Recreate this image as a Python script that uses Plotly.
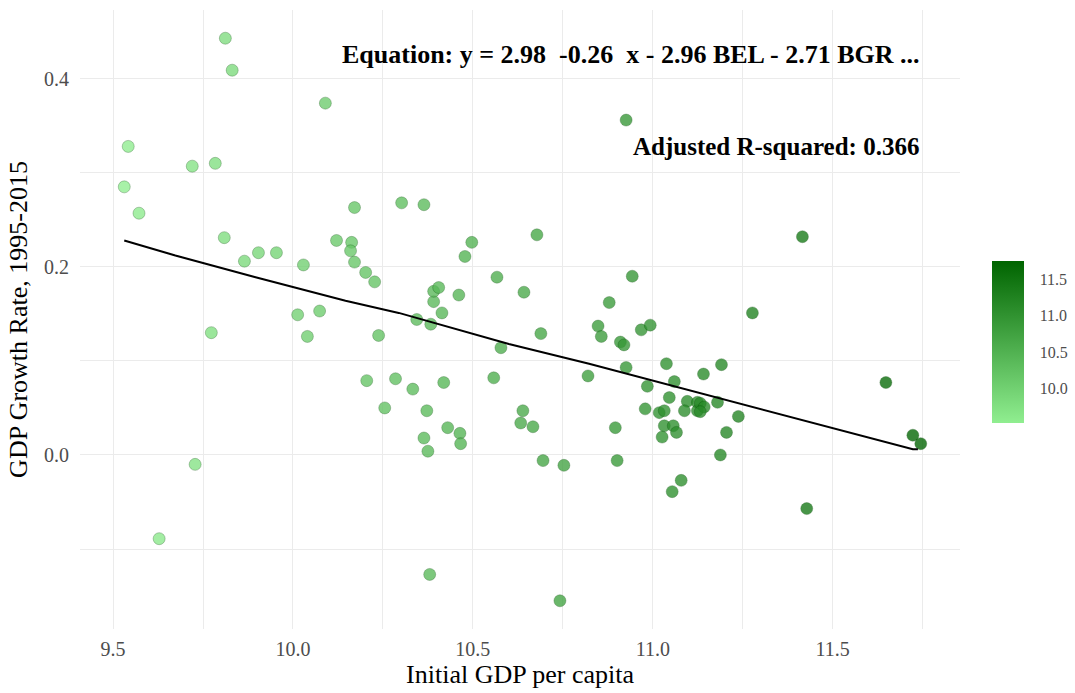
import plotly.graph_objects as go

# Scatter data: initial log GDP per capita vs GDP growth rate 1995-2015
gdp_init = [9.812, 9.831, 10.090, 9.542, 9.720, 9.784, 9.531, 9.572, 10.171, 9.809,
            10.121, 10.163, 10.160, 10.171, 9.904, 9.954, 9.865, 10.029, 10.202, 10.227,
            10.013, 10.074, 9.773, 10.040, 10.238, 10.344, 10.383, 10.414, 10.391, 10.205,
            10.285, 10.333, 10.419, 10.255, 10.372, 10.430, 10.464, 10.466, 10.364, 10.375,
            9.728, 9.628, 10.380, 10.302, 10.364, 10.678, 10.497, 10.478, 10.567, 10.943,
            10.391, 10.405, 10.461, 10.642, 10.879, 10.848, 10.857, 10.968, 10.993, 10.689,
            10.578, 10.910, 10.920, 10.926, 10.820, 10.558, 11.038, 11.060, 10.985, 10.639,
            10.633, 10.667, 10.695, 10.753, 10.896, 10.901, 10.979, 11.046, 11.018, 11.032,
            11.057, 11.066, 11.026, 11.096, 11.124, 11.088, 11.124, 11.079, 11.054, 11.416,
            11.277, 11.648, 11.723, 11.745, 11.428, 11.191, 11.141, 11.132, 11.143, 11.180,
            11.132, 11.238, 11.205, 11.188, 10.926, 10.742, 11.032]
growth = [0.443, 0.409, 0.374, 0.328, 0.307, 0.310, 0.285, 0.257, 0.263, 0.231,
          0.228, 0.226, 0.217, 0.205, 0.215, 0.215, 0.206, 0.202, 0.194, 0.184,
          0.149, 0.153, 0.130, 0.126, 0.127, 0.144, 0.139, 0.151, 0.163, 0.079,
          0.081, 0.070, 0.077, 0.050, 0.047, 0.029, 0.023, 0.012, 0.018, 0.004,
          -0.010, -0.089, -0.127, 0.268, 0.266, 0.234, 0.226, 0.211, 0.189, 0.190,
          0.174, 0.178, 0.170, 0.173, 0.162, 0.137, 0.126, 0.133, 0.138, 0.129,
          0.114, 0.120, 0.117, 0.093, 0.084, 0.082, 0.097, 0.078, 0.073, 0.047,
          0.034, 0.030, -0.006, -0.011, 0.029, -0.006, 0.049, 0.061, 0.045, 0.031,
          0.031, 0.024, 0.019, 0.057, 0.056, 0.047, 0.047, -0.027, -0.039, 0.232,
          0.151, 0.077, 0.021, 0.012, -0.057, 0.096, 0.086, 0.055, 0.051, 0.056,
          0.046, 0.041, 0.024, 0.000, 0.356, -0.155, 0.047]

# Fitted line
fit_x = [9.531, 9.673, 9.896, 10.146, 10.294, 10.600, 10.823, 11.130, 11.277, 11.500, 11.723, 11.737]
fit_y = [0.228, 0.212, 0.189, 0.164, 0.151, 0.118, 0.097, 0.066, 0.051, 0.028, 0.006, 0.006]

x_ticks = [9.5, 10.0, 10.5, 11.0, 11.5]
x_ticklabels = ["9.5", "10.0", "10.5", "11.0", "11.5"]
y_ticks = [0.0, 0.2, 0.4]
y_ticklabels = ["0.0", "0.2", "0.4"]
cb_ticks = [10.0, 10.5, 11.0, 11.5]
cb_ticklabels = ["10.0", "10.5", "11.0", "11.5"]

eq_text = "Equation: y = 2.98\u00a0 -0.26\u00a0 x - 2.96 BEL - 2.71 BGR ..."
r2_text = "Adjusted R-squared: 0.366"

SERIF = "Liberation Serif, Times New Roman, serif"

fig = go.Figure()
fig.add_trace(go.Scatter(
    x=gdp_init, y=growth, mode="markers",
    marker=dict(
        size=12, color=gdp_init,
        colorscale=[[0, "#90EE90"], [1, "#006400"]],
        opacity=0.78, line=dict(width=1, color="rgba(0,70,0,0.35)"),
        colorbar=dict(
            thickness=32, len=182, lenmode="pixels", xpad=0,
            x=1.036, xanchor="left", y=0.4637, yanchor="middle",
            tickvals=cb_ticks, ticktext=cb_ticklabels,
            ticks="outside", ticklen=13, tickcolor="rgba(0,0,0,0)",
            outlinewidth=0,
            tickfont=dict(family=SERIF, size=16, color="#4d4d4d"),
        ),
    ),
    showlegend=False, hoverinfo="x+y",
))
fig.add_trace(go.Scatter(
    x=fit_x, y=fit_y, mode="lines",
    line=dict(color="black", width=2),
    showlegend=False, hoverinfo="skip",
))

fig.add_annotation(x=11.745, y=0.4255, xref="x", yref="y", text="<b>" + eq_text + "</b>",
                   showarrow=False, xanchor="right", yanchor="middle",
                   font=dict(family=SERIF, size=26, color="black"))
fig.add_annotation(x=11.745, y=0.328, xref="x", yref="y", text="<b>" + r2_text + "</b>",
                   showarrow=False, xanchor="right", yanchor="middle",
                   font=dict(family=SERIF, size=25, color="black"))

grid = "#ebebeb"
fig.update_layout(
    width=1075, height=693,
    margin=dict(l=80, r=115, t=10, b=64, autoexpand=False),
    plot_bgcolor="white", paper_bgcolor="white",
    font=dict(family=SERIF),
    xaxis=dict(
        range=[9.408, 11.854], tickvals=x_ticks, ticktext=x_ticklabels,
        showgrid=True, gridcolor=grid, gridwidth=1, zeroline=False, showline=False,
        ticks="", tickfont=dict(family=SERIF, size=20, color="#4d4d4d"),
        ticklabelstandoff=6, automargin=False,
        minor=dict(dtick=0.25, tick0=9.5, showgrid=True, gridcolor=grid, gridwidth=0.6),
        title=dict(text="Initial GDP per capita", font=dict(family=SERIF, size=26, color="black"), standoff=4),
    ),
    yaxis=dict(
        range=[-0.185, 0.473], tickvals=y_ticks, ticktext=y_ticklabels,
        showgrid=True, gridcolor=grid, gridwidth=1, zeroline=False, showline=False,
        ticks="", tickfont=dict(family=SERIF, size=20, color="#4d4d4d"),
        ticklabelstandoff=10, automargin=False,
        minor=dict(dtick=0.1, tick0=0, showgrid=True, gridcolor=grid, gridwidth=0.6),
        title=dict(text="GDP Growth Rate, 1995-2015", font=dict(family=SERIF, size=26, color="black"), standoff=8),
    ),
)

fig.write_html("out.html")
